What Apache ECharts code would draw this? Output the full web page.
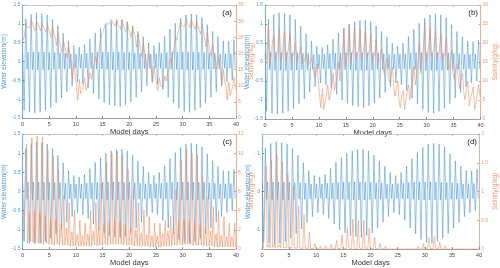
<!DOCTYPE html>
<html><head><meta charset="utf-8">
<script src="https://cdn.jsdelivr.net/npm/echarts@6/dist/echarts.min.js"></script>
<style>html,body{margin:0;padding:0;background:#fff}#c{width:500px;height:268px}</style>
</head><body><div id="c"></div>
<script>
// ---------------- DATA ----------------
const xTicks = [0,5,10,15,20,25,30,35,40];
const panelLabels = ['(a)','(b)','(c)','(d)'];
// water elevation (m) per day: big high, big low, small high, small low
const tideBigHigh = [1.13,1.25,1.3,1.27,1.24,1.12,0.95,0.75,0.55,0.42,0.38,0.45,0.6,0.76,0.88,1.0,1.06,1.09,1.1,1.06,0.95,0.8,0.66,0.5,0.42,0.5,0.67,0.86,1.02,1.15,1.24,1.26,1.24,1.17,0.98,0.8,0.66,0.55,0.54,0.58];
const tideBigLow = [-1.3,-1.35,-1.37,-1.35,-1.3,-1.22,-1.1,-0.97,-0.8,-0.65,-0.55,-0.6,-0.7,-0.85,-1.0,-1.08,-1.15,-1.18,-1.2,-1.15,-1.08,-0.95,-0.8,-0.65,-0.55,-0.6,-0.75,-0.95,-1.1,-1.25,-1.33,-1.35,-1.3,-1.22,-1.1,-0.95,-0.8,-0.65,-0.55,-0.5];
const tideSmallHigh = [0.22,0.25,0.25,0.25,0.25,0.24,0.24,0.23,0.22,0.2,0.2,0.2,0.22,0.23,0.24,0.25,0.25,0.25,0.25,0.24,0.24,0.23,0.22,0.2,0.2,0.21,0.22,0.24,0.25,0.25,0.25,0.25,0.25,0.24,0.24,0.23,0.22,0.2,0.2,0.21];
const tideSmallLow = [-0.2,-0.22,-0.22,-0.22,-0.22,-0.21,-0.2,-0.2,-0.19,-0.18,-0.18,-0.18,-0.19,-0.2,-0.2,-0.21,-0.22,-0.22,-0.22,-0.21,-0.2,-0.2,-0.19,-0.18,-0.18,-0.18,-0.19,-0.2,-0.21,-0.22,-0.22,-0.22,-0.22,-0.21,-0.2,-0.2,-0.19,-0.18,-0.18,-0.18];
// salinity (g/kg), 4 samples per day
const salA = [
24,25.5,29.5,28, 27.5,28,30.5,29, 28,27,30,29.5, 28.5,27,29.5,28.5, 28,26.5,29,27.5,
27,25,28,26, 25,22.5,26.5,24, 23.5,20.5,24,22, 21,18.5,22.5,19, 18,12,17,13,
10,5.5,12,7.5, 8,9.5,12.5,8.5, 9,11,14,12, 13,16,19,17, 19,21,24.5,26,
27,26.5,29.5,29, 29,28.5,30.5,29.5, 29.5,28.5,30.5,29, 29,27.5,30.5,28.5, 28.5,26.5,29.5,27.5,
27.5,25,28.5,26.5, 25.5,22,26,23.5, 23,19,23.5,20, 20,15,20,16.5, 15,11,16,12.5,
12,8.5,12.5,10, 10,9.5,13,11.5, 13,15,18.5,17, 19,21,25,24, 26,26.5,30,28.5,
29,28.5,31,29.5, 29.5,28,30.5,29, 29,27.5,30,28.5, 28.5,26,29,27, 26.5,22,26.5,23,
23,19,23,20, 19,15,19,16, 15,10.5,15,11, 10,5.5,11,7, 7,9.5,12.5,9];
const salB = [
14.5,17,25,14, 16,20,22,15.5, 16.5,18,24,15, 16,19,23,15.5, 16,18.5,22.5,15,
15.5,17.5,20,15, 15,16.5,19,14.5, 14.5,15.5,17.5,14, 14,15,16,13, 12.5,11,14.5,10,
7,3,8,2.5, 4,6,9,5, 6.5,8,12,7.5, 9,11,15,10, 13,16,24,14,
15,18,25,14.5, 16.5,18.5,24.5,16, 16,18,23.5,15.5, 16.5,19,23.5,16, 16,18,22.5,15.5,
15,17,21,14.5, 14,15.5,18.5,13.5, 12,13.5,16,11, 9.5,11,13.5,8.5, 6,8,10,4.5,
3,6,7.5,2.5, 4.5,7,9,5, 8,9.5,14,9, 11,14,20,12, 14.5,18,25.5,15,
16,19,24,16.5, 16.5,18.5,23.5,16, 16,18,22.5,15.5, 15.5,17,21.5,15, 13,15,18,12,
10.5,12.5,14.5,10, 8,10,12,7, 5,7.5,10,3.5, 3,6.5,8.5,2.5, 4,6,9,6];
const salC = [
1.0,0.8,10.9,0.6, 3.8,0.8,11.6,0.7, 4.0,0.7,11.8,0.6, 3.8,0.6,11.7,0.5, 3.5,0.6,10.4,0.5,
3.2,0.5,9.7,0.4, 3.0,0.5,8.3,0.4, 2.6,0.4,5.6,0.4, 2.2,0.4,4.8,0.3, 1.8,0.3,4.1,0.3,
1.5,0.3,3.0,0.3, 1.4,0.3,2.7,0.3, 1.6,0.3,4.0,0.3, 1.9,0.4,4.8,0.3, 2.2,0.4,6.9,0.4,
2.6,0.5,9.0,0.4, 2.8,0.5,10.0,0.5, 3.0,0.5,10.2,0.5, 2.9,0.5,9.8,0.4, 2.6,0.4,8.3,0.4,
2.3,0.4,6.2,0.3, 2.0,0.3,4.8,0.3, 1.7,0.3,4.1,0.3, 1.5,0.3,3.4,0.2, 1.4,0.2,2.7,0.2,
1.4,0.2,2.7,0.2, 1.6,0.3,3.0,0.3, 1.9,0.3,3.4,0.3, 2.2,0.4,6.2,0.4, 2.8,0.5,9.3,0.4,
3.0,0.5,10.4,0.5, 3.0,0.5,10.0,0.4, 2.8,0.4,9.8,0.4, 2.5,0.4,7.6,0.3, 2.2,0.3,5.5,0.3,
1.9,0.3,4.4,0.2, 1.6,0.2,4.0,0.2, 1.4,0.2,3.4,0.2, 1.3,0.2,2.7,0.2, 1.3,0.2,2.7,0.2];
const salD = [
0.02,0.02,1.44,0.03, 0.08,0.02,1.54,0.03, 0.08,0.02,1.64,0.03, 0.07,0.02,1.52,0.03, 0.06,0.02,1.32,0.02,
0.05,0.02,1.1,0.02, 0.04,0.02,0.75,0.02, 0.03,0.01,0.6,0.02, 0.02,0.01,0.3,0.01, 0.01,0.01,0.1,0.01,
0.01,0,0.05,0, 0,0,0.06,0, 0.01,0,0.08,0.01, 0.01,0.01,0.15,0.01, 0.02,0.01,0.25,0.01,
0.02,0.01,0.38,0.02, 0.03,0.01,0.52,0.02, 0.03,0.01,0.5,0.02, 0.03,0.01,0.5,0.02, 0.02,0.01,0.36,0.01,
0.02,0.01,0.2,0.01, 0.01,0,0.1,0.01, 0.01,0,0.05,0, 0,0,0.03,0, 0,0,0.02,0,
0,0,0.02,0, 0,0,0.02,0, 0,0,0.03,0, 0.01,0,0.05,0, 0.01,0,0.1,0.01,
0.02,0.01,0.2,0.01, 0.02,0.01,0.22,0.01, 0.01,0,0.12,0.01, 0.01,0,0.06,0, 0,0,0.03,0,
0,0,0.02,0, 0,0,0.02,0, 0,0,0.02,0, 0,0,0.02,0, 0,0,0.02,0];
const salinityRanges = [[0,35,5],[0,30,5],[0,12,2],[0,2,0.5]];

// ---------------- BUILD ----------------
const tidePhase = [0.05,0.3,0.62,0.85];
const salPhaseAB = [0.1,0.35,0.65,0.9];
const salPhaseCD = [0.25,0.5,0.75,0.95];
function tideSeries(){
  const out=[];
  for(let d=0; d<tideBigHigh.length; d++){
    out.push([d+tidePhase[0], tideSmallHigh[d]]);
    out.push([d+tidePhase[1], tideBigLow[d]]);
    out.push([d+tidePhase[2], tideBigHigh[d]]);
    out.push([d+tidePhase[3], tideSmallLow[d]]);
  }
  return out;
}
function salSeries(arr, ph){
  const out=[];
  for(let i=0;i<arr.length;i++){
    const d=Math.floor(i/4), k=i%4;
    out.push([d+ph[k], arr[i]]);
  }
  return out;
}
const sals=[salSeries(salA,salPhaseAB),salSeries(salB,salPhaseAB),salSeries(salC,salPhaseCD),salSeries(salD,salPhaseCD)];
const grids=[
  {left:18,top:5,width:218,height:113},
  {left:265,top:5,width:217,height:114},
  {left:19,top:134,width:217,height:116},
  {left:262,top:134,width:219,height:116}
];
const leftGap=[9,8,9,5], rightGap=[7,6,7,6];
const FONT='Liberation Sans';
const BLUE='#3d92d2', ORANGE='#ee8a5e';
const BLUE_T='#4d9ad6', ORANGE_T='#f09a76';
const xAxes=[], yAxes=[], series=[], graphics=[];
grids.forEach((g,i)=>{
  xAxes.push({type:'value',gridIndex:i,min:0,max:40,interval:5,position:'bottom',
    name:'Model days',nameLocation:'middle',nameGap:9,nameTextStyle:{fontSize:7.5,color:'#333',fontFamily:FONT},
    axisLine:{onZero:false,lineStyle:{color:'#888',width:0.8}},axisTick:{inside:true,length:2,lineStyle:{color:'#888'}},
    axisLabel:{fontSize:5.5,color:'#444',margin:3,fontFamily:FONT},splitLine:{show:false}});
  xAxes.push({type:'value',gridIndex:i,min:0,max:40,interval:5,position:'top',
    axisLine:{onZero:false,lineStyle:{color:'#bbb',width:0.8}},axisTick:{inside:true,length:2,lineStyle:{color:'#bbb'}},
    axisLabel:{show:false},splitLine:{show:false}});
  const isD = i===3;
  const lAx={type:'value',gridIndex:i,min:-1.5,max:1.5,interval:0.5,position:'left',
    name:'Water elevation(m)',nameLocation:'middle',nameGap:leftGap[i],nameRotate:90,
    nameTextStyle:{fontSize:6.5,color:BLUE_T,fontFamily:FONT},
    axisLine:{show:true,onZero:false,lineStyle:{color:BLUE_T,width:0.8}},
    axisTick:{inside:true,length:2,lineStyle:{color:BLUE_T}},
    axisLabel:{fontSize:5,color:BLUE_T,margin:2,fontFamily:FONT},
    splitLine:{show:false}};
  if(isD){ lAx.axisTick.customValues=[-1,0,1]; lAx.axisLabel.customValues=[-1,0,1]; }
  yAxes.push(lAx);
  const r=salinityRanges[i];
  yAxes.push({type:'value',gridIndex:i,min:r[0],max:r[1],interval:r[2],position:'right',
    name:'Salinity(g/kg)',nameLocation:'middle',nameGap:rightGap[i],nameRotate:90,
    nameTextStyle:{fontSize:6.5,color:ORANGE_T,fontFamily:FONT},
    axisLine:{show:true,onZero:false,lineStyle:{color:ORANGE_T,width:0.8}},
    axisTick:{inside:true,length:2,lineStyle:{color:ORANGE_T}},
    axisLabel:{fontSize:5,color:ORANGE_T,margin:2,fontFamily:FONT},splitLine:{show:false}});
  series.push({type:'line',xAxisIndex:2*i,yAxisIndex:2*i,data:tideSeries(),symbol:'none',
    lineStyle:{color:BLUE,width:0.7,opacity:0.75},z:2,animation:false});
  series.push({type:'line',xAxisIndex:2*i,yAxisIndex:2*i+1,data:sals[i],symbol:'none',
    lineStyle:{color:ORANGE,width:0.7,opacity:0.8},z:3,animation:false});
  graphics.push({type:'text',right:500-(g.left+g.width)+4,top:g.top+4,
    style:{text:panelLabels[i],fontSize:8,fill:'#222',fontFamily:FONT}});
});
const chart=echarts.init(document.getElementById('c'),null,{renderer:'canvas'});
chart.setOption({animation:false,grid:grids,xAxis:xAxes,yAxis:yAxes,series:series,graphic:graphics});
</script></body></html>
